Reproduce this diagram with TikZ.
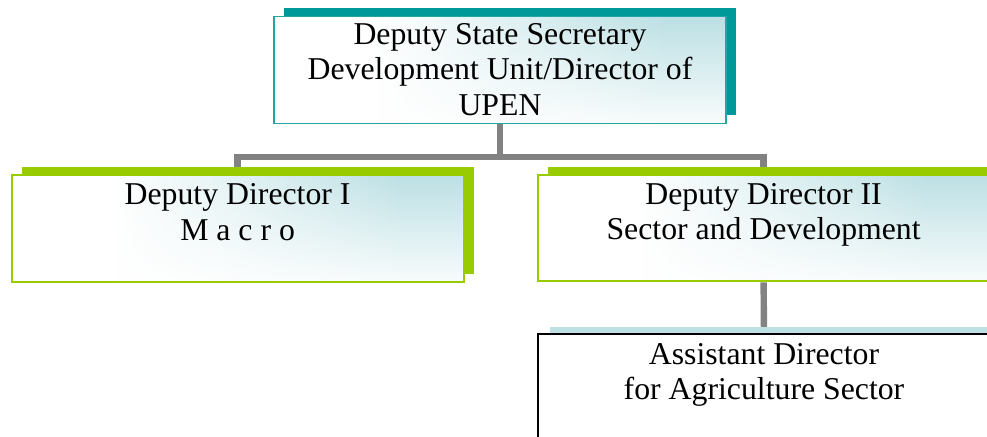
\documentclass[tikz,border=0pt]{standalone}
\usepackage{fontspec}
\setmainfont{Liberation Serif}
\usetikzlibrary{positioning,shadows,fadings,backgrounds}

\definecolor{upteal}{HTML}{009999}
\definecolor{upedge}{HTML}{22A5A5}
\definecolor{upgreen}{HTML}{99CC00}
\definecolor{uppale}{HTML}{BCE0E4}
\definecolor{uplink}{HTML}{828282}

% white on the left, pale teal on the right
\pgfdeclarehorizontalshading{unitshade}{100bp}{color(0bp)=(white); color(25bp)=(white); color(36bp)=(white); color(68bp)=(uppale); color(100bp)=(uppale)}

\begin{document}
\begin{tikzpicture}
		[auto=left,
		unit/.style={rectangle, minimum width=11.3cm, minimum height=2.67cm, inner sep=0pt,
			shading=unitshade,
			path picture={\fill[white, opacity=0.9, path fading=north]
				(path picture bounding box.south west) rectangle (path picture bounding box.north east);}},
		top unit/.style={unit, draw=upedge, line width=0.035cm,
			general shadow={fill=upteal, shadow xshift=0.26cm, shadow yshift=0.22cm}},
		dep unit/.style={unit, draw=upgreen, line width=0.05cm,
			general shadow={fill=upgreen, shadow xshift=0.27cm, shadow yshift=0.2cm}},
		asst unit/.style={rectangle, minimum width=11.3cm, minimum height=2.67cm, inner sep=0pt,
			fill=white, draw=black, line width=0.05cm,
			general shadow={fill=uppale, shadow xshift=0.3cm, shadow yshift=0.18cm}},
		title/.style={align=center, inner sep=0pt, font=\fontsize{22.6}{25}\selectfont},
		link/.style={draw=uplink, line width=0.16cm}]
		\useasboundingbox (0,0) rectangle (24.675,-10.925);
		\clip (0,0) rectangle (24.675,-10.925);
		
		% boxes
		\node [top unit](dss) at (12.5,-1.75) {};
		\node [dep unit](dd1) at (5.94,-5.71) {};
		\node [dep unit](dd2) at (19.09,-5.70) {};
		\node [asst unit](ad) at (19.10,-9.69) {};
		
		% texts at the top of each box
		\node [title, below=0.19cm of dss.north](dss-t) {Deputy State Secretary\\Development Unit/Director of\\UPEN};
		\node [title, below=0.24cm of dd1.north](dd1-t) {Deputy Director I\\M a c r o};
		\node [title, below=0.24cm of dd2.north](dd2-t) {Deputy Director II\\Sector and Development};
		\node [title, below=0.24cm of ad.north](ad-t) {Assistant Director\\for Agriculture Sector};
		
		% lines behind the boxes
		\coordinate (split) at (12.5,-3.925);
		\begin{scope}[on background layer]
		\draw [link] (dss.south) -- (split) -| (dd1.north);
		\draw [link] (split) -| (dd2.north);
		\draw [link] (dd2.south) -- (ad.north);
		\end{scope}
		\end{tikzpicture}
\end{document}
